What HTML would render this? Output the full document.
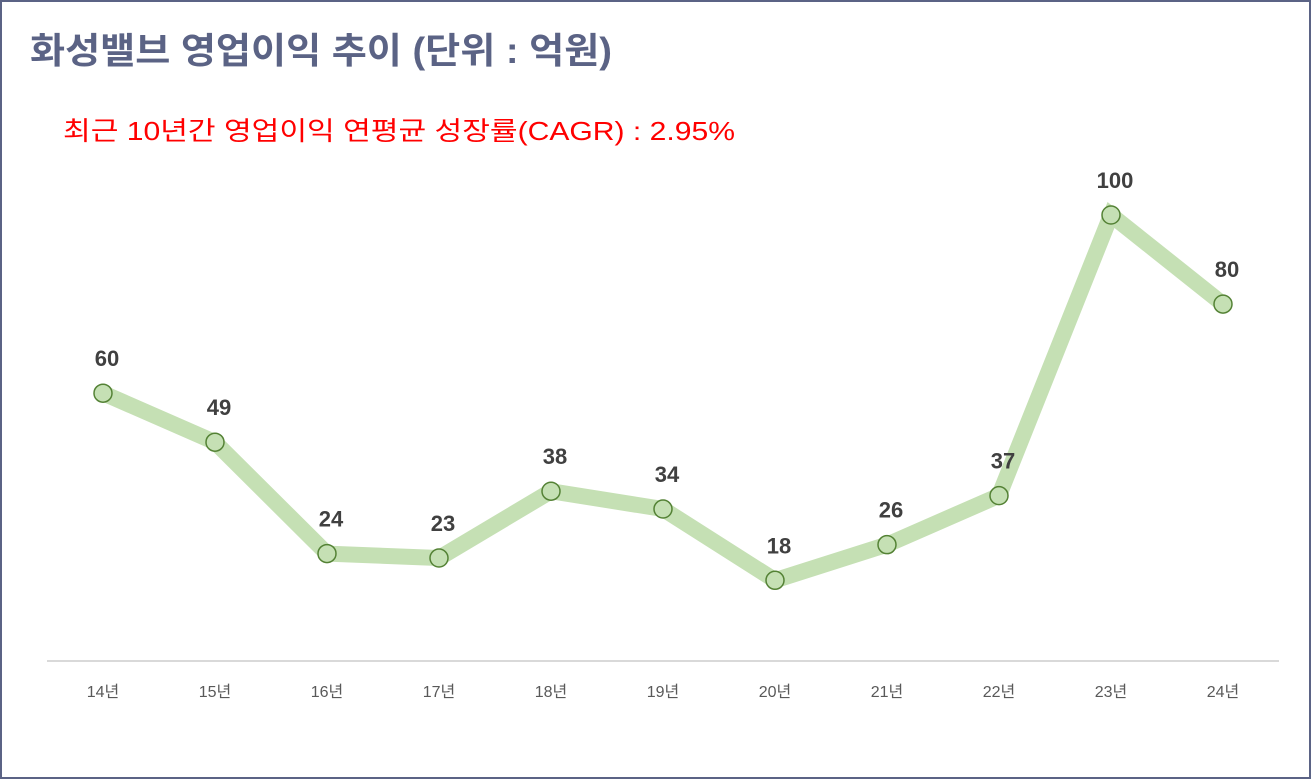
<!DOCTYPE html>
<html><head><meta charset="utf-8"><style>
html,body{margin:0;padding:0;background:#fff}
svg{display:block}
text{font-family:"Liberation Sans","Noto Sans CJK KR",sans-serif}
</style></head><body>
<svg id="chart" width="1311" height="780" viewBox="0 0 1311 780">
<rect x="1" y="1" width="1309" height="777" fill="#fff" stroke="#5b6385" stroke-width="2"/>
<text x="30" y="63" font-size="36" font-weight="bold" fill="#5b6385" textLength="582" lengthAdjust="spacingAndGlyphs">화성밸브 영업이익 추이 (단위 : 억원)</text>
<text x="63" y="140" font-size="26" fill="#ff0000" textLength="672" lengthAdjust="spacingAndGlyphs">최근 10년간 영업이익 연평균 성장률(CAGR) : 2.95%</text>
<line x1="47" y1="661" x2="1279" y2="661" stroke="#d9d9d9" stroke-width="2"/>
<g id="plot"></g>
</svg>
<script>
const categories = ["14년","15년","16년","17년","18년","19년","20년","21년","22년","23년","24년"];
const values = [60,49,24,23,38,34,18,26,37,100,80];

const NS = "http://www.w3.org/2000/svg";
const plot = document.getElementById("plot");
function xScale(i){ return 103 + i*112; }
function yScale(v){ return 660.5 - v*4.455; }

const line = document.createElementNS(NS,"polyline");
line.setAttribute("points", values.map((v,i)=>xScale(i)+","+yScale(v)).join(" "));
line.setAttribute("fill","none");
line.setAttribute("stroke","#c5e0b4");
line.setAttribute("stroke-width","16");
line.setAttribute("stroke-linejoin","miter");


plot.appendChild(line);

values.forEach((v,i)=>{
  const c = document.createElementNS(NS,"circle");
  c.setAttribute("cx", xScale(i));
  c.setAttribute("cy", yScale(v));
  c.setAttribute("r", 9);
  c.setAttribute("fill","#c5e0b4");
  c.setAttribute("stroke","#548235");
  c.setAttribute("stroke-width","1.5");
  
  
  plot.appendChild(c);

  const t = document.createElementNS(NS,"text");
  t.setAttribute("x", xScale(i)+4);
  t.setAttribute("y", yScale(v)-27);
  t.setAttribute("text-anchor","middle");
  t.setAttribute("font-size","22");
  t.setAttribute("font-weight","bold");
  t.setAttribute("fill","#404040");
  t.textContent = v;
  
  
  plot.appendChild(t);

  const a = document.createElementNS(NS,"text");
  a.setAttribute("x", xScale(i));
  a.setAttribute("y", 697);
  a.setAttribute("text-anchor","middle");
  a.setAttribute("font-size","16");
  a.setAttribute("fill","#595959");
  a.textContent = categories[i];
  
  
  plot.appendChild(a);
});
</script>
</body></html>
